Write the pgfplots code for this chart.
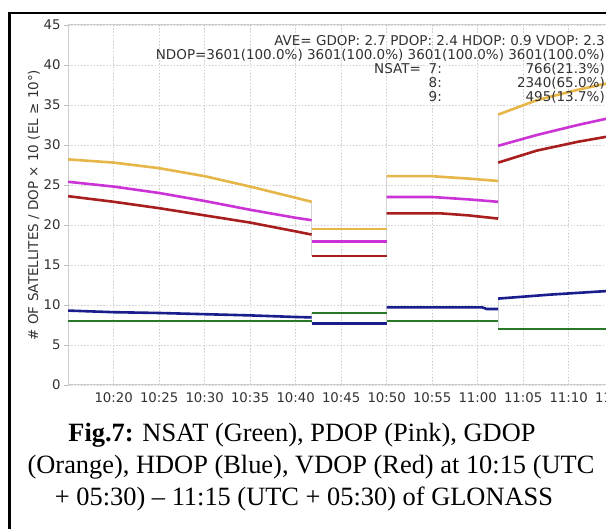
\documentclass[border=0pt]{standalone}
\usepackage{fontspec}
\setmainfont{Liberation Serif}
\newfontfamily\plotfont{DejaVu Sans}
\usepackage{pgfplots}
\pgfplotsset{compat=1.18}

\definecolor{gdop}{RGB}{230,182,72}
\definecolor{pdop}{RGB}{204,51,214}
\definecolor{vdop}{RGB}{168,30,30}
\definecolor{hdop}{RGB}{25,30,140}
\definecolor{nsat}{RGB}{40,120,40}
\definecolor{txtgray}{RGB}{50,50,50}

\begin{document}
\begin{tikzpicture}
\useasboundingbox (0pt,0pt) rectangle (606pt,529pt);
\clip (0pt,0pt) rectangle (606pt,529pt);
\fill[white] (0pt,0pt) rectangle (606pt,529pt);

\begin{axis}[
  at={(68.2pt,144pt)}, anchor=south west,
  scale only axis, width=546pt, height=360pt,
  xmin=0, xmax=60, ymin=0, ymax=45,
  xtick={5,10,...,60},
  xticklabels={10:20,10:25,10:30,10:35,10:40,10:45,10:50,10:55,11:00,11:05,11:10,11:15},
  ytick={0,5,...,45},
  grid=major,
  major grid style={gray!35, line width=0.8pt, dash pattern=on 1.6pt off 1.6pt},
  axis line style={gray!40, line width=1pt},
  tick align=outside,
  ytick style={gray!50, line width=0.8pt},
  major tick length=4pt,
  xtick style={draw=none},
  ticklabel style={font=\plotfont\fontsize{13.3}{15}\selectfont, text=txtgray},
  /pgf/number format/assume math mode=true,
  clip=true,
  every axis plot/.append style={line width=2.6pt},
]
% jump connectors
\addplot[gray!35, line width=0.7pt] coordinates {(26.75,22.9) (26.75,16.1)};
\addplot[gray!35, line width=0.7pt] coordinates {(26.75,9) (26.75,7.7)};
\addplot[gray!35, line width=0.7pt] coordinates {(35,26.1) (35,16.1)};
\addplot[gray!35, line width=0.7pt] coordinates {(35,9.7) (35,7.7)};
\addplot[gray!35, line width=0.7pt] coordinates {(47.25,33.8) (47.25,20.8)};
\addplot[gray!35, line width=0.7pt] coordinates {(47.25,10.8) (47.25,7)};

% NSAT
\addplot[nsat] coordinates {(0,8) (26.75,8)};
\addplot[nsat] coordinates {(26.75,9) (35,9)};
\addplot[nsat] coordinates {(35,8) (47.25,8)};
\addplot[nsat] coordinates {(47.25,7) (60,7)};

% HDOP
\addplot[hdop] coordinates {(0,9.3) (5,9.1) (10,9.0) (15,8.85) (20,8.7) (25,8.5) (26.75,8.45)};
\addplot[hdop] coordinates {(26.75,7.7) (35,7.7)};
\addplot[hdop] coordinates {(35,9.7) (45.5,9.7) (46,9.5) (47.25,9.5)};
\addplot[hdop] coordinates {(47.25,10.8) (53,11.3) (60,11.8)};

% VDOP
\addplot[vdop] coordinates {(0,23.6) (5,22.9) (10,22.1) (15,21.2) (20,20.3) (25,19.2) (26.75,18.8)};
\addplot[vdop] coordinates {(26.75,16.1) (35,16.1)};
\addplot[vdop] coordinates {(35,21.45) (41,21.45) (44,21.2) (47.25,20.8)};
\addplot[vdop] coordinates {(47.25,27.8) (51.5,29.3) (56,30.4) (60,31.2)};

% PDOP
\addplot[pdop] coordinates {(0,25.4) (5,24.8) (10,24.0) (15,23.0) (20,21.9) (25,20.9) (26.75,20.6)};
\addplot[pdop] coordinates {(26.75,17.9) (35,17.9)};
\addplot[pdop] coordinates {(35,23.5) (40,23.5) (44,23.2) (47.25,22.9)};
\addplot[pdop] coordinates {(47.25,29.9) (51.5,31.25) (56,32.5) (60,33.5)};

% GDOP
\addplot[gdop] coordinates {(0,28.2) (5,27.8) (10,27.1) (15,26.1) (20,24.8) (25,23.4) (26.75,22.9)};
\addplot[gdop] coordinates {(26.75,19.5) (35,19.5)};
\addplot[gdop] coordinates {(35,26.1) (40,26.1) (44,25.8) (47.25,25.5)};
\addplot[gdop] coordinates {(47.25,33.8) (51.5,35.6) (56,36.9) (60,37.9)};
\end{axis}

% axis title
\node[rotate=90, font=\plotfont\fontsize{13.5}{16}\selectfont, text=txtgray]
  at (34pt,324pt) {\# OF SATELLITES / DOP × 10 (EL ≥ 10°)};

% summary block
\begin{scope}[every node/.style={font=\plotfont\fontsize{13.5}{15}\selectfont, text=txtgray, inner sep=0pt}]
\node[anchor=base east] at (605pt,483pt) {AVE= GDOP: 2.7 PDOP: 2.4 HDOP: 0.9 VDOP: 2.3};
\node[anchor=base east] at (605pt,469pt) {NDOP=3601(100.0\%) 3601(100.0\%) 3601(100.0\%) 3601(100.0\%)};
\node[anchor=base west] at (374pt,455pt) {NSAT=};
\node[anchor=base east] at (442pt,455pt) {7:};
\node[anchor=base east] at (442pt,441pt) {8:};
\node[anchor=base east] at (442pt,427pt) {9:};
\node[anchor=base east] at (605pt,455pt) {766(21.3\%)};
\node[anchor=base east] at (605pt,441pt) {2340(65.0\%)};
\node[anchor=base east] at (605pt,427pt) {495(13.7\%)};
\end{scope}

% caption
\begin{scope}[every node/.style={font=\fontsize{26.4}{32}\selectfont, inner sep=0pt}]
\node[anchor=base] at (302pt,87.5pt) {\textbf{Fig.7:} NSAT (Green), PDOP (Pink), GDOP};
\node[anchor=base] at (311pt,55.5pt) {(Orange), HDOP (Blue), VDOP (Red) at 10:15 (UTC};
\node[anchor=base] at (304pt,23.5pt) {+ 05:30) – 11:15 (UTC + 05:30) of GLONASS};
\end{scope}

% outer frame
\draw[line width=2.6pt] (9.5pt,-10pt) -- (9.5pt,516pt) -- (640pt,516pt);
\end{tikzpicture}
\end{document}
